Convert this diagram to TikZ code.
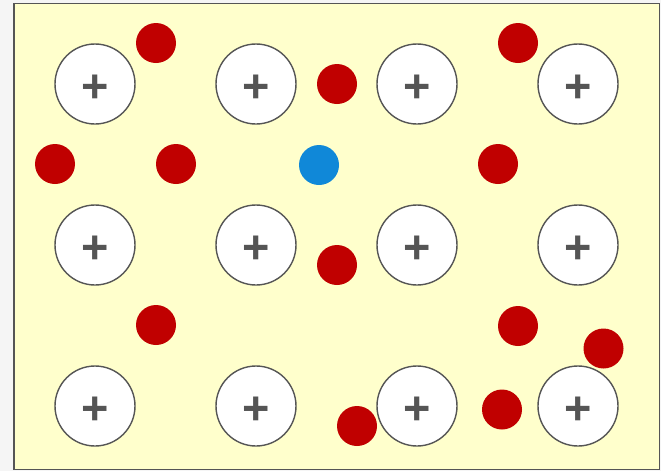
\documentclass[tikz,border=0pt]{standalone}
\usepackage{fontspec}
\usepackage{tikz}
\usepackage{xcolor}
\newfontfamily\plusfont{Liberation Sans}
\definecolor{pagegray}{HTML}{F5F5F5}
\definecolor{latticeyellow}{HTML}{FFFFCC}
\definecolor{iongray}{HTML}{555555}
\definecolor{electronred}{HTML}{C00000}
\definecolor{electronblue}{HTML}{1088D8}

\begin{document}
\begin{tikzpicture}[
    x=0.03cm, y=-0.03cm,
    metal/.style={draw=iongray, fill=latticeyellow, line width=1.3pt},
    ion/.style={draw=iongray, fill=white, circle, line width=1.2pt, minimum size=2.4cm, inner sep=0pt,
        text=iongray, text height=32pt, text depth=0pt,
        font=\plusfont\bfseries\fontsize{40}{40}\selectfont},
    electron/.style={circle, fill=electronred, minimum size=1.2cm, inner sep=0pt},
    tracer/.style={electron, fill=electronblue}
]
    % Page and metal block
    \fill[pagegray] (0,0) rectangle (661,471);
    \draw[metal] (14,3.5) rectangle (659.5,469.5);

    % Positive ions
    \node[ion] (ion11) at (95,84) {+};
    \node[ion] (ion12) at (256,84) {+};
    \node[ion] (ion13) at (417,84) {+};
    \node[ion] (ion14) at (578,84) {+};
    \node[ion] (ion21) at (95,245) {+};
    \node[ion] (ion22) at (256,245) {+};
    \node[ion] (ion23) at (417,245) {+};
    \node[ion] (ion24) at (578,245) {+};
    \node[ion] (ion31) at (95,406) {+};
    \node[ion] (ion32) at (256,406) {+};
    \node[ion] (ion33) at (417,406) {+};
    \node[ion] (ion34) at (578,406) {+};

    % Free electrons
    \node[electron] (e1) at (156,43) {};
    \node[electron] (e2) at (337,84) {};
    \node[electron] (e3) at (518,43) {};
    \node[electron] (e4) at (55,164) {};
    \node[electron] (e5) at (176,164) {};
    \node[electron] (e6) at (498,164) {};
    \node[electron] (e7) at (337,265) {};
    \node[electron] (e8) at (156,325) {};
    \node[electron] (e9) at (518,326) {};
    \node[electron] (e10) at (603.5,348.5) {};
    \node[electron] (e11) at (357,426) {};
    \node[electron] (e12) at (502,409.5) {};

    % Tracked electron
    \node[tracer] (e0) at (319,165) {};

\end{tikzpicture}
\end{document}
